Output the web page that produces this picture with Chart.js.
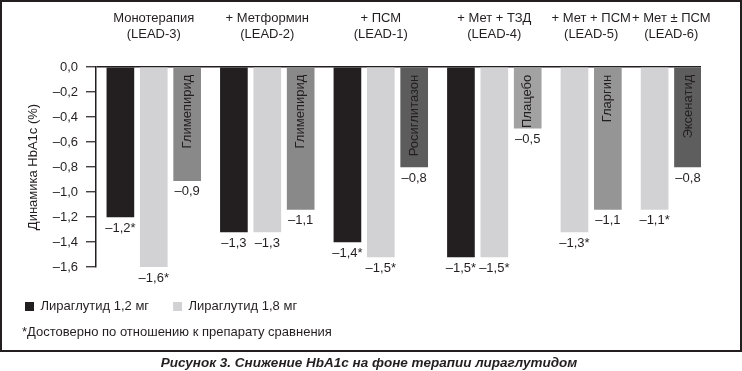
<!DOCTYPE html>
<html lang="ru">
<head>
  <meta charset="UTF-8" />
  <title>Снижение HbA1c</title>
  <script src="https://cdn.jsdelivr.net/npm/chart.js"></script>
  <style>
    body {
      margin: 0;
      background: #ffffff;
      font-family: 'Liberation Sans', Arial, sans-serif;
      color: #231f20;
    }

    .wrap {
      position: relative;
      width: 742px;
      height: 371px;
    }

    canvas {
      position: absolute;
      left: 0;
      top: 0;
    }

    .frame {
      position: absolute;
      left: 0;
      top: 0;
      width: 742px;
      height: 352px;
      box-sizing: border-box;
      border: 2px solid #231f20;
      pointer-events: none;
    }

    .note {
      position: absolute;
      left: 22px;
      top: 324px;
      font-size: 13px;
      line-height: 16px;
    }

    .caption {
      position: absolute;
      left: 0;
      top: 355px;
      width: 738px;
      text-align: center;
      font-size: 13.5px;
      line-height: 16px;
      font-weight: bold;
      font-style: italic;
    }
  </style>
</head>
<body>

  <div class="wrap">
    <canvas id="hba1cChart" width="742" height="352"></canvas>
    <div class="frame"></div>
    <div class="note">*Достоверно по отношению к препарату сравнения</div>
    <div class="caption">Рисунок 3. Снижение HbA1c на фоне терапии лираглутидом</div>
  </div>

  <script>
    // study groups (header labels, two lines each)
    const groupLabels = [
      ['Монотерапия', '(LEAD-3)'],
      ['+ Метформин', '(LEAD-2)'],
      ['+ ПСМ', '(LEAD-1)'],
      ['+ Мет + ТЗД', '(LEAD-4)'],
      ['+ Мет + ПСМ', '(LEAD-5)'],
      ['+ Мет ± ПСМ', '(LEAD-6)']
    ];

    // change of HbA1c, %
    const lira12 = [-1.20, -1.32, -1.40, -1.52, null, null];
    const lira18 = [-1.60, -1.32, -1.52, -1.52, -1.32, -1.14];
    const comparator = [-0.91, -1.14, -0.80, -0.49, -1.14, -0.80];
    const comparatorNames = ['Глимепирид', 'Глимепирид', 'Росиглитазон', 'Плацебо', 'Гларгин', 'Эксенатид'];

    // significant vs comparator (*)
    const star12 = [true, false, true, true, false, false];
    const star18 = [true, false, true, true, true, true];

    const yTickValues = [0, -0.2, -0.4, -0.6, -0.8, -1.0, -1.2, -1.4, -1.6];

    const INK = '#231f20';
    const comparatorColors = ['#898989', '#898989', '#5c5c5c', '#a2a2a2', '#959595', '#5e5e5e'];
    const GROUP_GAP = 0.4; // extra space between groups, in bar slots

    Chart.defaults.font.family = "'Liberation Sans', Arial, sans-serif";
    Chart.defaults.font.size = 13;
    Chart.defaults.color = INK;

    function fmt(v) {
      const s = Math.abs(v).toFixed(1).replace('.', ',');
      return v < -0.001 ? '–' + s : s;
    }

    // lay the bars out side by side: one slot per bar, small gap after each group
    const bars12 = [], bars18 = [], barsCmp = [], groupCenters = [];
    let slot = 0;
    groupLabels.forEach((_, g) => {
      const first = slot;
      if (lira12[g] !== null) bars12.push({ x: slot++, y: lira12[g], g });
      bars18.push({ x: slot++, y: lira18[g], g });
      barsCmp.push({ x: slot++, y: comparator[g], g });
      groupCenters.push((first + slot - 1) / 2);
      slot += GROUP_GAP;
    });

    const starsBySeries = [star12, star18, null];

    const barText = {
      id: 'barText',
      afterDatasetsDraw(chart) {
        const ctx = chart.ctx;
        ctx.save();
        ctx.fillStyle = INK;
        ctx.font = "13px 'Liberation Sans', Arial, sans-serif";
        chart.data.datasets.forEach((ds, di) => {
          const meta = chart.getDatasetMeta(di);
          const stars = starsBySeries[di];
          meta.data.forEach((bar, i) => {
            const pt = ds.data[i];
            const text = fmt(pt.y) + (stars && stars[pt.g] ? '*' : '');
            ctx.textAlign = 'center';
            ctx.textBaseline = 'middle';
            ctx.fillText(text, bar.x, bar.y + 11);

            if (di === 2) {
              ctx.save();
              ctx.translate(bar.x, bar.base + 7);
              ctx.rotate(-Math.PI / 2);
              ctx.textAlign = 'right';
              ctx.fillText(comparatorNames[pt.g], 0, 0);
              ctx.restore();
            }
          });
        });
        ctx.restore();
      }
    };

    new Chart(document.getElementById('hba1cChart'), {
      type: 'bar',
      data: {
        datasets: [
          { label: 'Лираглутид 1,2 мг', data: bars12, backgroundColor: INK },
          { label: 'Лираглутид 1,8 мг', data: bars18, backgroundColor: '#d2d2d4' },
          { label: 'Препарат сравнения', data: barsCmp, backgroundColor: comparatorColors }
        ]
      },
      options: {
        responsive: false,
        animation: false,
        layout: { padding: { left: 1, right: 41, top: 10, bottom: 29 } },
        datasets: {
          bar: { grouped: false, barThickness: 27, borderWidth: 0 }
        },
        scales: {
          x: {
            type: 'linear',
            position: 'top',
            min: -0.73,
            max: 17.39,
            offset: false,
            grid: { display: false, drawTicks: false },
            border: { display: false },
            afterBuildTicks: s => { s.ticks = groupCenters.map(v => ({ value: v })); },
            afterFit: s => { s.height = 57; },
            ticks: {
              autoSkip: false,
              maxRotation: 0,
              minRotation: 0,
              padding: 25,
              font: { size: 13, lineHeight: 16 / 13 },
              callback: (v, i) => groupLabels[i]
            }
          },
          y: {
            min: -1.6,
            max: 0,
            afterBuildTicks: s => { s.ticks = yTickValues.map(v => ({ value: v })); },
            afterFit: s => { s.width = 95; },
            grid: {
              color: c => (c.tick && c.tick.value === 0 ? INK : 'transparent'),
              lineWidth: 1.5,
              tickColor: INK,
              tickLength: 10,
              tickWidth: 1.2
            },
            border: { color: INK, width: 1.5 },
            ticks: { padding: 8, callback: v => fmt(v) },
            title: {
              display: true,
              text: 'Динамика HbA1c (%)',
              font: { size: 13 },
              padding: { top: 25, bottom: 0 }
            }
          }
        },
        plugins: {
          legend: {
            position: 'bottom',
            align: 'start',
            title: { display: true, text: ' ', padding: 0, font: { size: 7.5 } },
            labels: {
              boxWidth: 9,
              boxHeight: 9,
              padding: 24,
              filter: item => item.datasetIndex < 2
            }
          },
          tooltip: { enabled: false }
        }
      },
      plugins: [barText]
    });
  </script>

</body>
</html>
